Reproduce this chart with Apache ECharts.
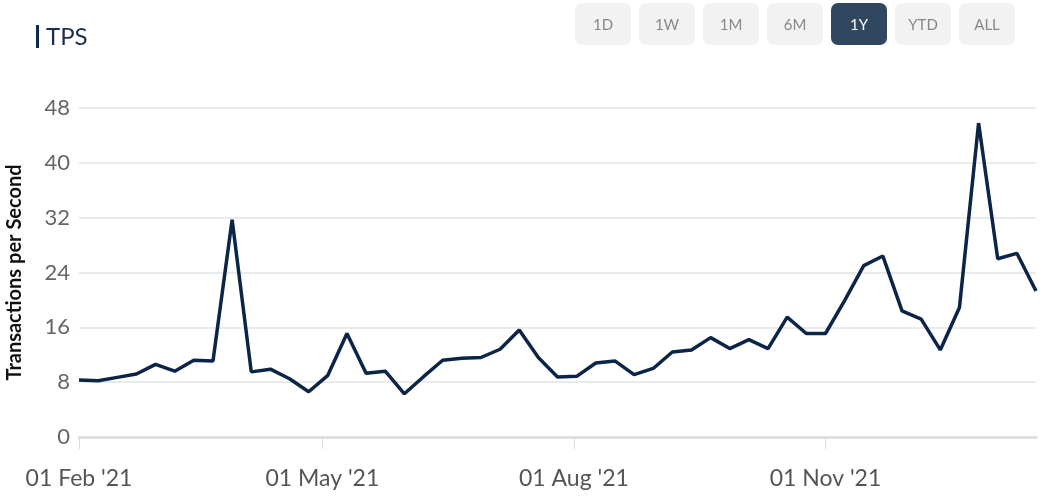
<!DOCTYPE html>
<html>
<head>
<meta charset="utf-8">
<script src="https://cdn.jsdelivr.net/npm/echarts@6/dist/echarts.min.js"></script>
<style>
html,body{margin:0;padding:0;background:#fff;}
#chart{width:1051px;height:497px;}
</style>
</head>
<body>
<div id="chart"></div>
<script>
const weeks = [
 '2021-02-01','2021-02-08','2021-02-15','2021-02-22',
 '2021-03-01','2021-03-08','2021-03-15','2021-03-22','2021-03-29',
 '2021-04-05','2021-04-12','2021-04-19','2021-04-26',
 '2021-05-03','2021-05-10','2021-05-17','2021-05-24','2021-05-31',
 '2021-06-07','2021-06-14','2021-06-21','2021-06-28',
 '2021-07-05','2021-07-12','2021-07-19','2021-07-26',
 '2021-08-02','2021-08-09','2021-08-16','2021-08-23','2021-08-30',
 '2021-09-06','2021-09-13','2021-09-20','2021-09-27',
 '2021-10-04','2021-10-11','2021-10-18','2021-10-25',
 '2021-11-01','2021-11-08','2021-11-15','2021-11-22','2021-11-29',
 '2021-12-06','2021-12-13','2021-12-20','2021-12-27',
 '2022-01-03','2022-01-10','2022-01-17'
];
const tps = [
 8.3, 8.2, 8.7, 9.2,
 10.6, 9.6, 11.2, 11.1, 31.7,
 9.5, 9.9, 8.5, 6.6,
 9.0, 15.1, 9.3, 9.6, 6.3,
 8.8, 11.2, 11.5, 11.6,
 12.8, 15.6, 11.6, 8.75,
 8.85, 10.8, 11.1, 9.1, 10.0,
 12.4, 12.7, 14.5, 12.9,
 14.2, 12.9, 17.5, 15.1,
 15.1, 19.9, 25.0, 26.4, 18.4,
 17.2, 12.7, 18.9, 45.8,
 26.0, 26.8, 21.3
];
const xTickDates = ['2021-02-01','2021-05-01','2021-08-01','2021-11-01'];
const yTicks = [0, 8, 16, 24, 32, 40, 48];
const ranges = ['1D','1W','1M','6M','1Y','YTD','ALL'];
const activeRange = '1Y';

const MONTHS = ['Jan','Feb','Mar','Apr','May','Jun','Jul','Aug','Sep','Oct','Nov','Dec'];
function toTs(s){ const p = s.split('-').map(Number); return new Date(p[0], p[1]-1, p[2]).getTime(); }
function fmt(v){
  const d = new Date(v);
  const dd = String(d.getDate()).padStart(2,'0');
  return dd + ' ' + MONTHS[d.getMonth()] + " '" + String(d.getFullYear()).slice(2);
}

const chart = echarts.init(document.getElementById('chart'), null, {renderer:'canvas'});

const graphics = [
  {type:'rect', left:36, top:25, shape:{width:3, height:23}, style:{fill:'#0f2a4f'}},
  {type:'text', x:46, y:37, style:{text:'TPS', fill:'#1b2e4e', font:'24px Lato', verticalAlign:'middle'}}
];
ranges.forEach((r,i)=>{
  const active = r === activeRange;
  graphics.push({
    type:'group', left:575 + 64*i, top:3,
    children:[
      {type:'rect', shape:{x:0,y:0,width:56,height:42,r:7}, style:{fill: active ? '#30475f' : '#f2f2f2'}},
      {type:'text', x:28, y:22, style:{text:r, fill: active ? '#ffffff' : '#888888', font:'15px Lato', align:'center', verticalAlign:'middle'}}
    ]
  });
});

const xTickVals = xTickDates.map(toTs);

chart.setOption({
  animation:false,
  backgroundColor:'#ffffff',
  graphic: graphics,
  grid:{left:79, right:15, top:108, bottom:60, containLabel:false, outerBoundsMode:'none'},
  xAxis:{
    type:'value',
    min: toTs(weeks[0]),
    max: toTs(weeks[weeks.length-1]),
    axisLine:{show:true, lineStyle:{color:'#e0e0e0', width:3}},
    axisTick:{show:true, length:12, lineStyle:{color:'#dcdcdc', width:1}, customValues: xTickVals},
    axisLabel:{fontFamily:'Lato', fontSize:23, color:'#555555', margin:30, formatter: fmt, customValues: xTickVals},
    splitLine:{show:false}
  },
  yAxis:{
    type:'value',
    min: yTicks[0], max: yTicks[yTicks.length-1], interval: 8,
    name:'Transactions per Second',
    nameLocation:'middle',
    nameGap:54,
    nameTextStyle:{fontFamily:'Lato', fontSize:20, fontWeight:'bold', color:'#111111'},
    axisLine:{show:false},
    axisTick:{show:false},
    axisLabel:{fontFamily:'Lato', fontSize:22, color:'#666666', margin:9},
    splitLine:{lineStyle:{color:'#e8ebeb', width:2}}
  },
  series:[{
    type:'line',
    data: weeks.map((w,i)=>[toTs(w), tps[i]]),
    showSymbol:false,
    symbol:'none',
    lineStyle:{color:'#0b2447', width:3.5},
    itemStyle:{color:'#0b2447'}
  }]
});
</script>
</body>
</html>
